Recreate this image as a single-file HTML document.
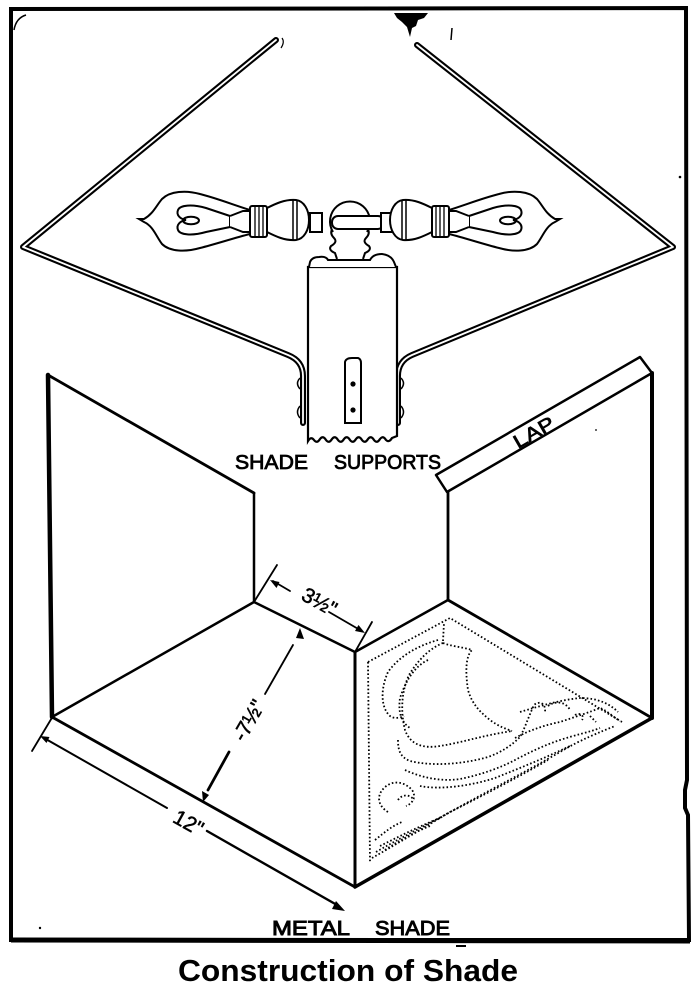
<!DOCTYPE html>
<html>
<head>
<meta charset="utf-8">
<style>
  html,body{margin:0;padding:0;background:#fff;}
  body{width:700px;height:1000px;overflow:hidden;}
  svg{display:block;}
  .lbl{font-family:"Liberation Sans",sans-serif;fill:#000;}
</style>
</head>
<body>
<svg width="700" height="1000" viewBox="0 0 700 1000" xmlns="http://www.w3.org/2000/svg">
  <rect x="0" y="0" width="700" height="1000" fill="#fff"/>

  <!-- outer border -->
  <path d="M11,9 L686,8 L687,780 L685,790 L685,808 L688,815 L689,940 L11,940 Z" fill="none" stroke="#000" stroke-width="4"/>
  <line x1="11" y1="940" x2="690" y2="941" stroke="#000" stroke-width="5"/>
  <path d="M14,30 Q16,18 26,15" fill="none" stroke="#000" stroke-width="1.5"/>
  <!-- ink blob top -->
  <path d="M394,13 L428,13 L424,18 L418,20 L416,26 L412,28 L410,37 L407,27 L402,22 L397,18 Z" fill="#000"/>
  <path d="M452,28 L451,40" stroke="#000" stroke-width="1.5"/>
  <path d="M282,38 Q285,42 281,48" fill="none" stroke="#000" stroke-width="1.2"/>

  <!-- wires (tubes) -->
  <g fill="none" stroke-linejoin="round" stroke-linecap="round">
    <path d="M276,40 L23,247 L288,355 Q303,361 303,376 L303,423" stroke="#000" stroke-width="6"/>
    <path d="M276,40 L23,247 L288,355 Q303,361 303,376 L303,423" stroke="#fff" stroke-width="1.8"/>
    <path d="M417,45 L673,247 L412,355 Q398,361 398,376 L398,423" stroke="#000" stroke-width="6"/>
    <path d="M417,45 L673,247 L412,355 Q398,361 398,376 L398,423" stroke="#fff" stroke-width="1.8"/>
  </g>
  <!-- bracket bumps -->
  <g fill="#fff" stroke="#000" stroke-width="1.5">
    <path d="M300,378 Q295,383 300,389"/>
    <path d="M300,406 Q295,412 300,418"/>
    <path d="M401,378 Q406,383 401,389"/>
    <path d="M401,406 Q406,412 401,418"/>
  </g>

  <!-- central box -->
  <path d="M308,267 L308,441 Q311,436 314,440 Q317,444 320,439 Q323,435 326,440 Q329,444 332,439 Q335,435 338,440 Q341,444 344,439 Q347,435 350,440 Q353,444 356,439 Q359,435 362,440 Q365,444 368,439 Q371,435 374,440 Q377,444 380,439 Q383,435 386,440 Q389,443 392,438 L397,436 L397,267 Z" fill="#fff" stroke="#000" stroke-width="2.2"/>
  <!-- base cap -->
  <path d="M309,267 L310,262 Q312,257 319,257 Q326,256 328,260 L370,260 Q373,254 382,254 Q391,255 394,262 L396,267" fill="#fff" stroke="#000" stroke-width="2"/>
  <!-- plate with screws -->
  <path d="M345,362 Q346,358 352,358 L358,358 Q361,359 361,363 L361,423 L345,423 Z" fill="#fff" stroke="#000" stroke-width="2"/>
  <circle cx="353" cy="384" r="2.6" fill="#000"/>
  <circle cx="353" cy="410" r="2.6" fill="#000"/>

  <!-- neck -->
  <path d="M333,228 Q329,233 334,238 Q338,242 331,246 Q328,250 335,253 L337,259 M367,228 Q371,233 366,238 Q362,242 369,246 Q372,250 365,253 L363,259" fill="none" stroke="#000" stroke-width="2"/>
  <!-- sphere -->
  <path d="M333,232 A20,20 0 1 1 367,232" fill="#fff" stroke="#000" stroke-width="2"/>
  <rect x="332" y="216" width="52" height="13" rx="6" fill="#fff" stroke="#000" stroke-width="2"/>
  <rect x="310" y="213" width="12" height="19" fill="#fff" stroke="#000" stroke-width="2"/>
  <rect x="381" y="213" width="12" height="19" fill="#fff" stroke="#000" stroke-width="2"/>

  <!-- left bulb + socket -->
  <g id="lamp" fill="#fff" stroke="#000" stroke-width="2">
    <path d="M250,210 C234,205 216,198 200,194 C186,190 170,191 162,199 C156,206 153,214 144,219 L139,219 L144,222 C153,226 156,236 162,244 C170,252 186,252 200,248 C216,244 234,238 250,234 Z"/>
    <path d="M230,216 L206,208 C192,204 180,205 178,210 C176,215 180,219 186,220 C180,221 176,225 178,230 C180,235 192,236 206,232 L230,227 Z" fill="none"/>
    <ellipse cx="191" cy="220.5" rx="8" ry="3.8" fill="none"/>
    <path d="M230,216 L243,211 L250,211 L250,232 L243,232 L230,227"/>
    <rect x="250" y="206" width="17" height="31" rx="2"/>
    <path d="M255,206 L255,237 M259,206 L259,237 M263,206 L263,237" fill="none" stroke-width="1.3"/>
    <path d="M267,208 C275,204 285,199 296,200 C304,201 309,210 309,220 C309,230 304,239 296,240 C285,241 275,236 267,232 Z"/>
    <path d="M293,200 L293,240 M297,200 L297,240" fill="none" stroke-width="1.5"/>
  </g>
  <use href="#lamp" transform="translate(699,0) scale(-1,1)"/>

  <!-- shade panels -->
  <g fill="none" stroke="#000" stroke-linecap="round" stroke-linejoin="round">
    <line x1="48" y1="375" x2="52" y2="717" stroke-width="4.5"/>
    <line x1="48" y1="375" x2="254" y2="493" stroke-width="2.8"/>
    <line x1="254" y1="493" x2="254" y2="602" stroke-width="2.5"/>
    <line x1="52" y1="717" x2="254" y2="602" stroke-width="2.5"/>
    <line x1="254" y1="602" x2="355" y2="652" stroke-width="2.5"/>
    <line x1="52" y1="717" x2="355" y2="887" stroke-width="2.8"/>
    <line x1="355" y1="652" x2="355" y2="887" stroke-width="3"/>
    <line x1="355" y1="652" x2="448" y2="600" stroke-width="2.5"/>
    <line x1="448" y1="600" x2="652" y2="718" stroke-width="2.8"/>
    <line x1="652" y1="718" x2="355" y2="887" stroke-width="3.5"/>
    <line x1="448" y1="492" x2="448" y2="600" stroke-width="2.8"/>
    <line x1="652" y1="373" x2="652" y2="718" stroke-width="4"/>
    <path d="M447,492 L436,475 L640,357 L652,373 Z" stroke-width="2.5"/>
  </g>

  <!-- dimension lines -->
  <g fill="none" stroke="#000" stroke-width="1.8" stroke-linecap="round">
    <line x1="277" y1="565" x2="254" y2="602"/>
    <line x1="372" y1="622" x2="355" y2="652"/>
    <line x1="273" y1="581" x2="290" y2="591"/>
    <line x1="329" y1="612" x2="360" y2="630"/>
    <line x1="293" y1="645" x2="265" y2="694"/>
    <line x1="229" y1="752" x2="208" y2="790" stroke-width="2.8"/>
    <line x1="32" y1="751" x2="53" y2="716"/>
    <line x1="44" y1="738" x2="167" y2="808" stroke-width="2"/>
    <line x1="207" y1="831" x2="337" y2="905" stroke-width="2.4"/>
  </g>
  <g fill="#000">
    <polygon points="270,580 279.5,582 276.5,588"/>
    <polygon points="365,633 355,631 358.5,625"/>
    <polygon points="300,628 304,639 296,638"/>
    <polygon points="203,802 202,791 209,795"/>
    <polygon points="40,736 49.5,737 46.5,743"/>
    <polygon points="345,911 332,909 336,901"/>
  </g>

  <!-- dimension text -->
  <text class="lbl" x="0" y="0" font-size="21" text-anchor="middle" stroke="#000" stroke-width="0.5" transform="translate(316,608) rotate(29)">3½"</text>
  <text class="lbl" x="0" y="0" font-size="21" text-anchor="middle" stroke="#000" stroke-width="0.5" transform="translate(255,724) rotate(-60)">-7½"</text>
  <text class="lbl" x="0" y="0" font-size="21" text-anchor="middle" stroke="#000" stroke-width="0.5" transform="translate(185,829) rotate(29)">12"</text>

  <!-- ornament (dotted) -->
  <g fill="none" stroke="#000" stroke-width="1.8" stroke-dasharray="1.6 2.2" stroke-linecap="butt">
    <path d="M368,662 L450,618 L622,722"/>
    <path d="M368,662 L370,862"/>
    <path d="M372,858 C395,845 420,830 445,815 C480,795 520,775 560,752 C580,740 600,732 615,726"/>
    <path d="M376,852 C400,838 425,826 450,812 C490,792 520,776 548,760"/>
    <path d="M380,846 C400,836 420,826 440,818"/>
    <!-- sail -->
    <path d="M443,641 L444,623 M443,643 C450,646 462,647 472,650 C466,656 465,670 468,690 C472,704 480,712 490,720 C498,726 506,729 512,731"/>
    <path d="M443,643 C430,648 418,660 409,675 C402,690 400,710 405,730 C410,744 422,749 440,746 C460,743 480,736 512,731"/>
    <path d="M438,640 C420,645 400,655 388,672 C380,690 381,708 390,716 C394,719 400,718 404,716"/>
    <path d="M428,660 C415,666 406,680 400,698 C398,712 401,722 410,728"/>
    <!-- hull/waves -->
    <path d="M398,740 C398,750 400,757 410,761 C430,766 460,765 488,757 C502,752 512,745 520,737 C525,728 528,718 534,705 C540,700 546,704 545,712"/>
    <path d="M515,738 C530,730 545,725 560,722 C575,717 590,712 600,708 C606,710 612,716 620,721"/>
    <path d="M520,712 C540,706 560,700 580,698 C598,698 610,704 618,712"/>
    <path d="M405,770 C420,777 440,782 460,779 C480,775 500,768 515,760 C530,752 545,745 560,740 C575,735 590,732 600,728"/>
    <path d="M420,786 C440,790 470,786 495,778 C520,768 545,758 570,746"/>
    <path d="M388,812 C378,806 376,796 384,788 C392,780 404,781 412,790 C417,797 412,804 406,806"/>
    <path d="M398,800 C402,794 410,794 414,800"/>
    <path d="M375,840 C385,832 392,826 402,822 M385,850 C400,840 415,832 430,826"/>
    <path d="M548,706 C556,700 566,702 570,710 M575,715 C580,712 585,716 582,720 M590,716 L596,722"/>
  </g>

  <!-- labels -->
  <text class="lbl" x="235" y="469" font-size="20" textLength="73" lengthAdjust="spacingAndGlyphs" stroke="#000" stroke-width="0.8">SHADE</text>
  <text class="lbl" x="334" y="469" font-size="20" textLength="107" lengthAdjust="spacingAndGlyphs" stroke="#000" stroke-width="0.8">SUPPORTS</text>
  <text class="lbl" x="0" y="0" font-size="19" text-anchor="middle" textLength="44" lengthAdjust="spacingAndGlyphs" stroke="#000" stroke-width="0.7" transform="translate(537,438) rotate(-30)">LAP</text>
  <text class="lbl" x="272" y="935" font-size="20" textLength="78" lengthAdjust="spacingAndGlyphs" stroke="#000" stroke-width="0.9">METAL</text>
  <text class="lbl" x="375" y="935" font-size="20" textLength="75" lengthAdjust="spacingAndGlyphs" stroke="#000" stroke-width="0.9">SHADE</text>
  <line x1="456" y1="946" x2="466" y2="946" stroke="#000" stroke-width="2"/>

  <text class="lbl" x="178" y="981" font-size="31" font-weight="bold" textLength="340" lengthAdjust="spacingAndGlyphs">Construction of Shade</text>

  <!-- specks -->
  <g fill="#000">
    <circle cx="680" cy="177" r="1.3"/>
    <circle cx="40" cy="928" r="1.2"/>
    <circle cx="596" cy="430" r="0.9"/>
  </g>
</svg>
</body>
</html>
